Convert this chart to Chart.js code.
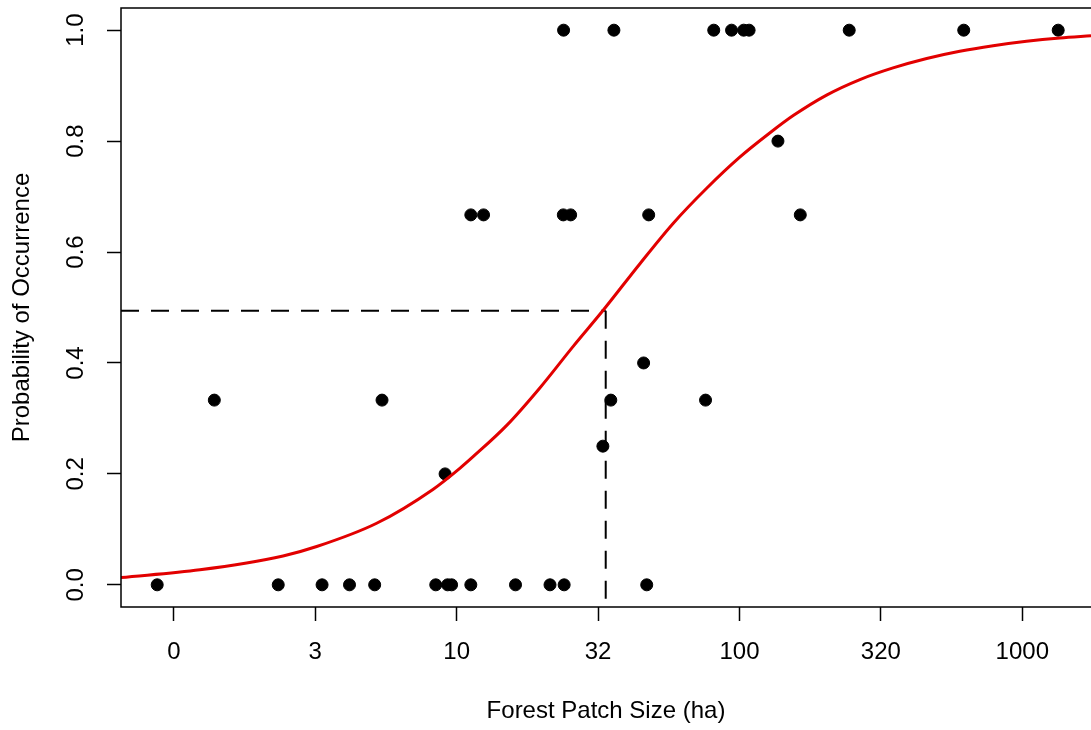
<!DOCTYPE html>
<html lang="en">

<head>
    <meta charset="UTF-8">
    <title>Probability of Occurrence vs Forest Patch Size</title>
    <script src="https://cdn.jsdelivr.net/npm/chart.js"></script>
    <style>
        html, body { margin: 0; padding: 0; background: #fff; }
        #wrap { width: 1091px; height: 730px; position: relative; }
    </style>
</head>

<body>
    <div id="wrap"><canvas id="patchChart"></canvas></div>

    <script>
        // x values are log10 of patch size; tick labels show the back-transformed size
        const xTicks = [0, 0.5, 1, 1.5, 2, 2.5, 3];
        const xTickLabels = ['0', '3', '10', '32', '100', '320', '1000'];
        const yTicks = [0, 0.2, 0.4, 0.6, 0.8, 1.0];

        // observed occurrence per patch
        const obsLogSize = [
            -0.059, 0.369, 0.524, 0.621, 0.710, 0.926, 0.968, 0.982, 1.050, 1.208, 1.330, 1.380, 1.672,
            0.143, 0.736, 1.545, 1.880,
            0.959, 1.517, 1.661,
            1.050, 1.095, 1.377, 1.403, 1.679, 2.215,
            2.136,
            1.378, 1.556, 1.909, 1.972, 2.015, 2.034, 2.388, 2.793, 3.127
        ];
        const obsProb = [
            0, 0, 0, 0, 0, 0, 0, 0, 0, 0, 0, 0, 0,
            0.333, 0.333, 0.333, 0.333,
            0.2, 0.25, 0.4,
            0.667, 0.667, 0.667, 0.667, 0.667, 0.667,
            0.8,
            1, 1, 1, 1, 1, 1, 1, 1, 1
        ];

        // fitted logistic curve
        const fitLogSize = [
            -0.187, 0.092, 0.386, 0.505, 0.717, 0.916, 1.011, 1.058, 1.176, 1.294, 1.412, 1.518,
            1.648, 1.766, 1.884, 2.001, 2.108, 2.190, 2.308, 2.426, 2.543, 2.662, 2.779, 2.897,
            3.015, 3.133, 3.243
        ];
        const fitProb = [
            0.013, 0.027, 0.052, 0.069, 0.111, 0.172, 0.210, 0.231, 0.287, 0.355, 0.430, 0.495,
            0.579, 0.652, 0.715, 0.771, 0.815, 0.846, 0.883, 0.911, 0.932, 0.949, 0.962, 0.972,
            0.980, 0.986, 0.990
        ];

        // size at which p = 0.5
        const halfX = 1.527;
        const halfY = 0.494;

        const xMin = -0.187, xMax = 3.243;
        const yMin = -0.04, yMax = 1.04;

        const fontFamily = '"Liberation Sans", Arial, Helvetica, sans-serif';

        // draws the box around the plot (right side falls off the canvas)
        const frame = {
            id: 'frame',
            afterDatasetsDraw(chart) {
                const { ctx, chartArea: a } = chart;
                ctx.save();
                ctx.strokeStyle = '#000';
                ctx.lineWidth = 1.5;
                ctx.beginPath();
                ctx.moveTo(a.right + 2, a.top);
                ctx.lineTo(a.left, a.top);
                ctx.lineTo(a.left, a.bottom);
                ctx.lineTo(a.right + 2, a.bottom);
                ctx.stroke();
                ctx.restore();
            }
        };

        // keep the tick labels from pushing the plot area around
        function noScalePadding(scale) {
            scale.paddingTop = 0;
            scale.paddingBottom = 0;
            scale.paddingLeft = 0;
            scale.paddingRight = 0;
        }

        const ctx = document.getElementById('patchChart').getContext('2d');
        new Chart(ctx, {
            type: 'scatter',
            data: {
                datasets: [
                    {
                        label: 'fit',
                        type: 'line',
                        data: fitLogSize.map((x, i) => ({ x: x, y: fitProb[i] })),
                        borderColor: 'rgb(226,0,0)',
                        borderWidth: 3,
                        pointRadius: 0,
                        cubicInterpolationMode: 'monotone',
                        fill: false,
                        order: 0
                    },
                    {
                        label: 'half-h',
                        type: 'line',
                        data: [{ x: xMin, y: halfY }, { x: halfX, y: halfY }],
                        borderColor: '#000',
                        borderWidth: 2,
                        borderDash: [18, 12],
                        pointRadius: 0,
                        fill: false,
                        order: 1
                    },
                    {
                        label: 'half-v',
                        type: 'line',
                        data: [{ x: halfX, y: halfY }, { x: halfX, y: yMin }],
                        borderColor: '#000',
                        borderWidth: 2,
                        borderDash: [18, 12],
                        pointRadius: 0,
                        fill: false,
                        order: 1
                    },
                    {
                        label: 'observed',
                        data: obsLogSize.map((x, i) => ({ x: x, y: obsProb[i] })),
                        backgroundColor: '#000',
                        borderColor: '#000',
                        pointRadius: 6,
                        pointHoverRadius: 6,
                        order: 2
                    }
                ]
            },
            options: {
                responsive: true,
                maintainAspectRatio: false,
                animation: false,
                events: [],
                layout: { autoPadding: false, padding: { top: 8, left: 0, right: 0, bottom: 0 } },
                plugins: {
                    legend: { display: false },
                    tooltip: { enabled: false }
                },
                scales: {
                    x: {
                        type: 'linear',
                        min: xMin,
                        max: xMax,
                        afterBuildTicks: (scale) => { scale.ticks = xTicks.map(v => ({ value: v })); },
                        afterFit: (scale) => { scale.height = 123; noScalePadding(scale); },
                        border: { display: false },
                        grid: {
                            drawOnChartArea: false,
                            drawTicks: true,
                            tickLength: 14,
                            tickColor: '#000',
                            tickWidth: 1.5
                        },
                        ticks: {
                            autoSkip: false,
                            maxRotation: 0,
                            padding: 17,
                            color: '#000',
                            font: { family: fontFamily, size: 24 },
                            callback: (v) => xTickLabels[xTicks.indexOf(v)]
                        },
                        title: {
                            display: true,
                            text: 'Forest Patch Size (ha)',
                            color: '#000',
                            font: { family: fontFamily, size: 24 },
                            padding: { top: 0, bottom: 4 }
                        }
                    },
                    y: {
                        type: 'linear',
                        min: yMin,
                        max: yMax,
                        afterBuildTicks: (scale) => { scale.ticks = yTicks.map(v => ({ value: v })); },
                        afterFit: (scale) => { scale.width = 121; noScalePadding(scale); },
                        border: { display: false },
                        grid: {
                            drawOnChartArea: false,
                            drawTicks: true,
                            tickLength: 14,
                            tickColor: '#000',
                            tickWidth: 1.5
                        },
                        ticks: {
                            minRotation: 90,
                            maxRotation: 90,
                            crossAlign: 'center',
                            padding: 14,
                            color: '#000',
                            font: { family: fontFamily, size: 24 },
                            callback: (v) => v.toFixed(1)
                        },
                        title: {
                            display: true,
                            text: 'Probability of Occurrence',
                            color: '#000',
                            font: { family: fontFamily, size: 24 },
                            padding: { top: 8, bottom: 0 }
                        }
                    }
                }
            },
            plugins: [frame]
        });
    </script>
</body>

</html>
